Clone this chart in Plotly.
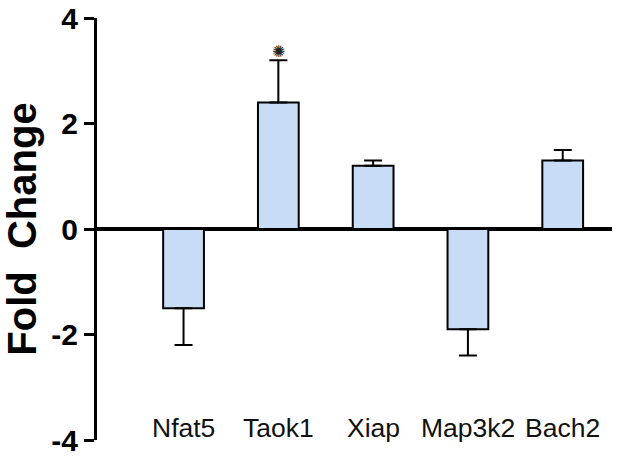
import plotly.graph_objects as go

genes = ["Nfat5", "Taok1", "Xiap", "Map3k2", "Bach2"]
fold_change = [-1.5, 2.4, 1.2, -1.9, 1.3]
sem = [0.7, 0.8, 0.1, 0.5, 0.2]
significant = [False, True, False, False, False]
y_ticks = [-4, -2, 0, 2, 4]

err_plus = [e if v > 0 else 0 for v, e in zip(fold_change, sem)]
err_minus = [e if v < 0 else 0 for v, e in zip(fold_change, sem)]

fig = go.Figure()
fig.add_trace(go.Bar(
    x=genes, y=fold_change, width=0.43,
    marker=dict(color="#C8DCF6", line=dict(color="black", width=2)),
    error_y=dict(type="data", symmetric=False, array=err_plus, arrayminus=err_minus,
                 color="black", thickness=2, width=9),
    showlegend=False,
))

# significance marker
for g, v, e, s in zip(genes, fold_change, sem, significant):
    if s:
        fig.add_annotation(x=g, y=v + e + 0.17, text="✺", showarrow=False,
                           font=dict(size=16, color="#222", family="DejaVu Sans"),
                           xref="x", yref="y")

# category labels inside the plot, near the bottom
for g in genes:
    fig.add_annotation(x=g, y=-3.77, text=g, showarrow=False,
                       font=dict(size=26.5, color="#111", family="Liberation Sans"),
                       xref="x", yref="y")

fig.update_layout(
    width=619, height=459,
    margin=dict(l=97, r=7, t=18, b=19, autoexpand=False),
    plot_bgcolor="white", paper_bgcolor="white",
    bargap=0.5,
)
fig.update_xaxes(
    type="category", range=[-0.913, 4.52], showticklabels=False, showline=False,
    showgrid=False, zeroline=False, ticks="",
)
fig.update_yaxes(
    range=[-4, 4], tickvals=y_ticks, ticktext=[str(t) for t in y_ticks],
    showgrid=False, showline=True, linecolor="black", linewidth=3,
    ticks="outside", ticklen=10, tickwidth=3, tickcolor="black",
    zeroline=True, zerolinecolor="black", zerolinewidth=4,
    tickfont=dict(size=30, family="Liberation Sans", color="black", weight="bold"),
    title=dict(text="Fold\u00a0\u00a0Change", standoff=10,
               font=dict(size=40, family="Liberation Sans", color="black", weight="bold")),
)

fig.write_html("out.html", config={"displayModeBar": False},
               post_script="document.body.style.margin='0';document.body.style.overflow='hidden';")
